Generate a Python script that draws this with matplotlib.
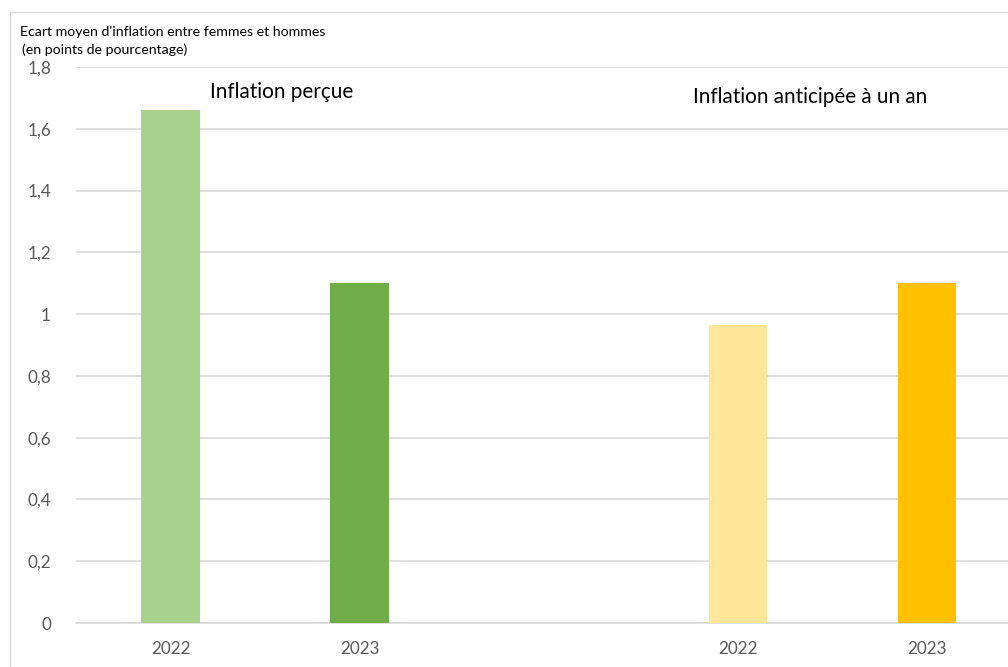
import matplotlib.pyplot as plt
from matplotlib.patches import Rectangle
from matplotlib.ticker import FuncFormatter

plt.rcParams['font.family'] = ['Lato', 'DejaVu Sans']

years = ['2022', '2023', '2022', '2023']
values = [1.66, 1.10, 0.965, 1.10]
positions = [0, 1, 3, 4]
colors = ['#A9D18E', '#70AD47', '#FFE699', '#FFC000']
group_titles = ['Inflation perçue', 'Inflation anticipée à un an']
yticks = [0, 0.2, 0.4, 0.6, 0.8, 1.0, 1.2, 1.4, 1.6, 1.8]

fig = plt.figure(figsize=(10.08, 6.67), dpi=100)
ax = fig.add_axes([76/1008, 1 - 623/667, 1 - 76/1008, (623 - 67)/667])

# chart frame (cut off on the right and bottom like the reference)
fig.patches.append(Rectangle((10/1008, -0.1), 1.2, 1 - 12/667 + 0.1,
                             transform=fig.transFigure, fill=False,
                             edgecolor='#D9D9D9', linewidth=1.0))

ax.bar(positions, values, width=0.31, color=colors, zorder=3)

ax.set_ylim(0, 1.8)
ax.set_xlim(-0.5, (1008 - 171) / 189)
ax.set_yticks(yticks)
ax.yaxis.set_major_formatter(FuncFormatter(lambda v, p: f'{v:g}'.replace('.', ',')))
ax.set_xticks(positions)
ax.set_xticklabels(years)
ax.grid(axis='y', color='#D9D9D9', linewidth=1.2, zorder=0)
ax.tick_params(length=0, labelsize=12.3, colors='#595959')
ax.tick_params(axis='y', pad=18)
ax.tick_params(axis='x', pad=13)
for s in ['top', 'right', 'left']:
    ax.spines[s].set_visible(False)
ax.spines['bottom'].set_color('#D9D9D9')
ax.spines['bottom'].set_linewidth(1.2)
ax.set_facecolor('none')

fig.text(20/1008, 1 - 32/667, "Ecart moyen d'inflation entre femmes et hommes",
         fontsize=10.2, va='center', ha='left')
fig.text(22/1008, 1 - 50/667, "(en points de pourcentage)",
         fontsize=10.2, va='center', ha='left')

fig.text(210/1008, 1 - 92/667, group_titles[0], fontsize=14.9, va='center', ha='left')
fig.text(693/1008, 1 - 97/667, group_titles[1], fontsize=14.9, va='center', ha='left')

fig.savefig('out.png', dpi=100)
